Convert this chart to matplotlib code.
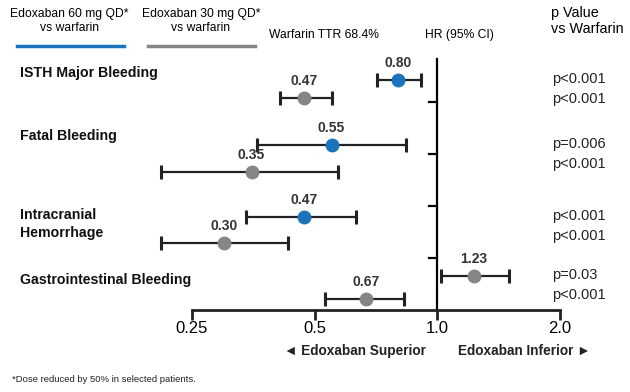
import numpy as np
import matplotlib
matplotlib.use("Agg")
import matplotlib.pyplot as plt

plt.rcParams["font.family"] = ["Liberation Sans", "DejaVu Sans"]

# data
categories = ["ISTH Major Bleeding", "Fatal Bleeding", "Intracranial\nHemorrhage",
              "Gastrointestinal Bleeding"]
hr_60 = [0.80, 0.55, 0.47, 1.23]
lo_60 = [0.71, 0.36, 0.34, 1.02]
hi_60 = [0.91, 0.84, 0.63, 1.50]
hr_30 = [0.47, 0.35, 0.30, 0.67]
lo_30 = [0.41, 0.21, 0.21, 0.53]
hi_30 = [0.55, 0.57, 0.43, 0.83]
p_60 = ["p<0.001", "p=0.006", "p<0.001", "p=0.03"]
p_30 = ["p<0.001", "p<0.001", "p<0.001", "p<0.001"]
xticks = [0.25, 0.5, 1.0, 2.0]
xticklabels = ["0.25", "0.5", "1.0", "2.0"]

# layout (rows in pixel units from top)
row_60 = [80, 145, 217, 276]
row_30 = [98, 172, 243, 299]
label_rows = [73, 136, 224, 280]
sep_rows = [102, 154, 206, 258]

blue = "#1a73bb"
gray = "#858585"
dark = "#222222"

W, H = 630, 392
fig = plt.figure(figsize=(W / 100, H / 100), dpi=100)
ax = fig.add_axes([192 / W, 1 - 310 / H, (560 - 192) / W, (310 - 59) / H])
ax.set_xscale("log", base=2)
ax.set_xlim(0.25, 2.0)
ax.set_ylim(310, 59)
ax.set_xticks(xticks)
ax.set_xticklabels(xticklabels, fontsize=12)
ax.minorticks_off()
ax.set_yticks([])
for s in ["top", "right", "left"]:
    ax.spines[s].set_visible(False)
ax.spines["bottom"].set_linewidth(2)
ax.spines["bottom"].set_color(dark)
ax.tick_params(axis="x", length=7, width=2, color=dark, pad=1)

ax.axvline(1.0, color="black", lw=1.6, clip_on=False)
for y in sep_rows:
    ax.plot([0.955, 1.0], [y, y], color="black", lw=1.6)


def draw(hr, lo, hi, rows, color):
    hr = np.array(hr)
    err = [hr - np.array(lo), np.array(hi) - hr]
    ax.errorbar(hr, rows, xerr=err, fmt="o", color=dark, ecolor=dark,
                elinewidth=1.6, capsize=4.8, capthick=2.2,
                markersize=9, markerfacecolor=color, markeredgecolor=color,
                clip_on=False, zorder=3)
    for v, y in zip(hr, rows):
        ax.annotate(f"{v:.2f}", (v, y), xytext=(0, 12), textcoords="offset points",
                    ha="center", va="center", fontsize=10, fontweight="bold",
                    color="#333333")


# point colours as drawn in the reference
cols_60 = [blue, blue, blue, gray]
for i in range(len(categories)):
    draw([hr_60[i]], [lo_60[i]], [hi_60[i]], [row_60[i]], cols_60[i])
draw(hr_30, lo_30, hi_30, row_30, gray)

# category labels and p values
for name, y in zip(categories, label_rows):
    fig.text(20 / W, 1 - y / H, name, ha="left", va="center", fontsize=10.2,
             fontweight="bold", color="#111111", linespacing=1.45)
for i in range(len(categories)):
    fig.text(552 / W, 1 - (row_60[i] - 1) / H, p_60[i], ha="left", va="center",
             fontsize=10.5, color="#222222")
    fig.text(552 / W, 1 - (row_60[i] + 19) / H, p_30[i], ha="left", va="center",
             fontsize=10.5, color="#222222")

# header
fig.text(69 / W, 1 - 21 / H, "Edoxaban 60 mg QD*\nvs warfarin", ha="center",
         va="center", fontsize=8.7, linespacing=1.3)
fig.text(201 / W, 1 - 21 / H, "Edoxaban 30 mg QD*\nvs warfarin", ha="center",
         va="center", fontsize=8.7, linespacing=1.3)
fig.add_artist(plt.Line2D([17 / W, 124 / W], [1 - 46 / H] * 2, color=blue, lw=2.5))
fig.add_artist(plt.Line2D([148 / W, 255 / W], [1 - 46 / H] * 2, color=gray, lw=2.5))
fig.text(269 / W, 1 - 35 / H, "Warfarin TTR 68.4%", ha="left", va="center", fontsize=8.7)
fig.text(425 / W, 1 - 35 / H, "HR (95% CI)", ha="left", va="center", fontsize=8.7)
fig.text(551 / W, 1 - 21 / H, "p Value\nvs Warfarin", ha="left", va="center",
         fontsize=10.4, linespacing=1.12)

# bottom annotations
fig.text(426 / W, 1 - 351 / H, "\u25c4 Edoxaban Superior", ha="right", va="center",
         fontsize=9.8, fontweight="bold", color="#222222")
fig.text(458 / W, 1 - 351 / H, "Edoxaban Inferior \u25ba", ha="left", va="center",
         fontsize=9.8, fontweight="bold", color="#222222")
fig.text(12 / W, 1 - 379 / H, "*Dose reduced by 50% in selected patients.",
         ha="left", va="center", fontsize=6.8, color="#222222")

fig.savefig("out.png", dpi=100)
